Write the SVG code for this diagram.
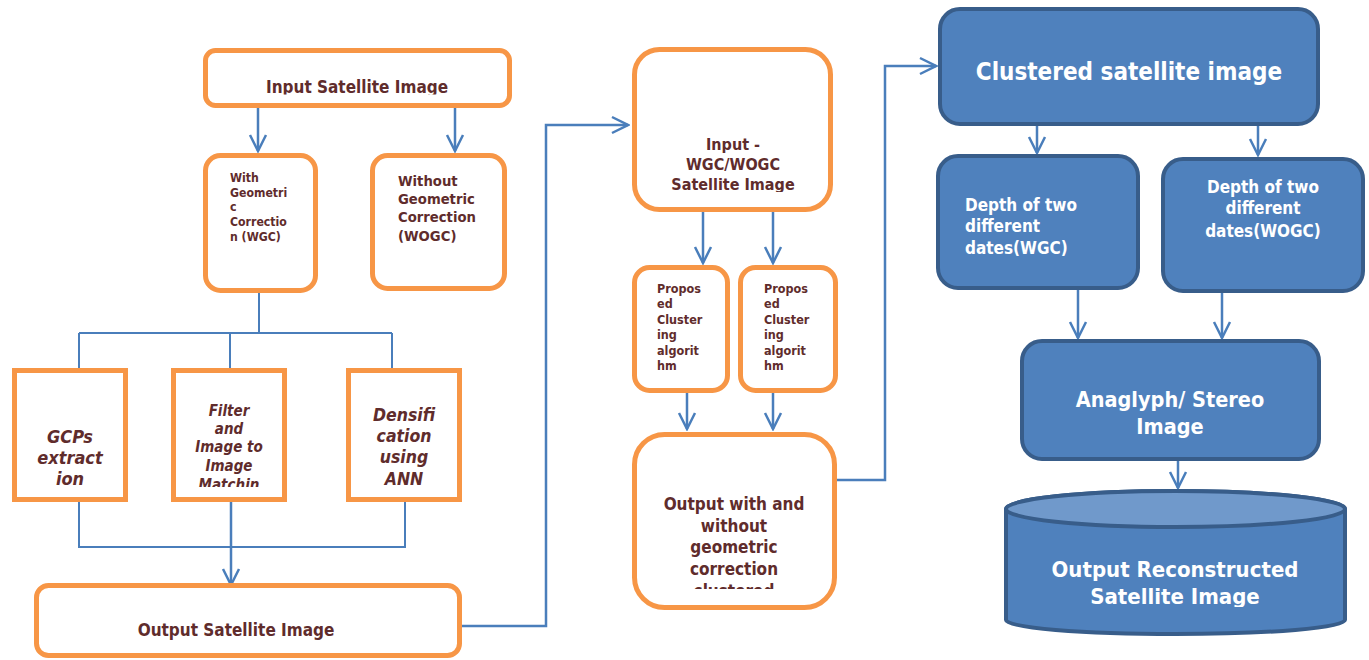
<svg xmlns="http://www.w3.org/2000/svg" width="1369" height="660" viewBox="0 0 1369 660">
<style>
.ob{fill:#fff;stroke:#f79646;stroke-width:5}
.bb{fill:#4f81bd;stroke:#385d8a;stroke-width:4}
.t{font-family:"DejaVu Sans Condensed","DejaVu Sans",sans-serif;font-weight:bold;fill:#5f2c2c}
.w{fill:#fff}
.m{text-anchor:middle}
.i{font-style:italic}
.c{fill:none;stroke:#4a7ebb;stroke-width:2}
.a{marker-end:url(#ah);stroke-width:2.5}
</style>
<defs>
<marker id="ah" viewBox="0 0 20 20" refX="18" refY="10" markerWidth="20" markerHeight="20" markerUnits="userSpaceOnUse" orient="auto">
<path d="M2,2 L18,10 L2,18" fill="none" stroke="#4a7ebb" stroke-width="2.5"/>
</marker>
<clipPath id="c1"><rect x="200" y="50" width="320" height="44.5"/></clipPath>
<clipPath id="c2"><rect x="0" y="370" width="480" height="117"/></clipPath>
<clipPath id="c3"><rect x="630" y="50" width="210" height="142"/></clipPath>
<clipPath id="c4"><rect x="630" y="430" width="210" height="159"/></clipPath>
<clipPath id="c5"><rect x="1000" y="520" width="360" height="87"/></clipPath>
</defs>
<g id="connectors">
<path class="c a" d="M258,108 V151"/>
<path class="c a" d="M455,108 V151"/>
<path class="c" d="M259,293 V333 M79,333 H392 M79,333 V368 M230,333 V368 M392,333 V368"/>
<path class="c" d="M79,502 V547 H405 V502"/>
<path class="c a" d="M231,502 V585"/>
<path class="c a" d="M462,626 H546 V125 H628"/>
<path class="c a" d="M703,212 V263"/>
<path class="c a" d="M773,212 V263"/>
<path class="c a" d="M687,393 V429"/>
<path class="c a" d="M773,393 V429"/>
<path class="c a" d="M837,480 H885 V66 H936"/>
<path class="c a" d="M1037,126 V153"/>
<path class="c a" d="M1258,126 V155"/>
<path class="c a" d="M1078,290 V338"/>
<path class="c a" d="M1222,293 V338"/>
<path class="c a" d="M1178,461 V488"/>
</g>
<g id="input">
<rect class="ob" x="205.5" y="50.5" width="304" height="55" rx="10"/>
<text class="t m" x="357" y="93" font-size="17" clip-path="url(#c1)">Input Satellite Image</text>
</g>
<g id="wgc">
<rect class="ob" x="205.5" y="155.5" width="110" height="135" rx="15"/>
<text class="t" font-size="12.2"><tspan x="230" y="182">With</tspan><tspan x="230" y="197">Geometri</tspan><tspan x="230" y="211">c</tspan><tspan x="230" y="226">Correctio</tspan><tspan x="230" y="241">n (WGC)</tspan></text>
</g>
<g id="wogc">
<rect class="ob" x="372.5" y="155.5" width="132" height="133" rx="15"/>
<text class="t" font-size="14.7"><tspan x="398" y="186">Without</tspan><tspan x="398" y="204">Geometric</tspan><tspan x="398" y="222">Correction</tspan><tspan x="398" y="241">(WOGC)</tspan></text>
</g>
<g id="gcps">
<rect class="ob" x="14.5" y="370.5" width="111" height="129"/>
<text class="t m i" font-size="18" clip-path="url(#c2)"><tspan x="70" y="443">GCPs</tspan><tspan x="70" y="464">extract</tspan><tspan x="70" y="485">ion</tspan></text>
</g>
<g id="filter">
<rect class="ob" x="173.5" y="370.5" width="111" height="129"/>
<text class="t m i" font-size="15" clip-path="url(#c2)"><tspan x="229" y="416">Filter</tspan><tspan x="229" y="434">and</tspan><tspan x="229" y="452">Image to</tspan><tspan x="229" y="471">Image</tspan><tspan x="229" y="490">Matchin</tspan></text>
</g>
<g id="densification">
<rect class="ob" x="348.5" y="370.5" width="111" height="129"/>
<text class="t m i" font-size="17.5" clip-path="url(#c2)"><tspan x="404" y="421">Densifi</tspan><tspan x="404" y="442">cation</tspan><tspan x="404" y="463">using</tspan><tspan x="404" y="485">ANN</tspan></text>
</g>
<g id="output">
<rect class="ob" x="36.5" y="585.5" width="423" height="70" rx="12"/>
<text class="t m" x="236" y="636" font-size="17">Output Satellite Image</text>
</g>
<g id="input2">
<rect class="ob" x="634.5" y="49.5" width="196" height="160" rx="25"/>
<text class="t m" font-size="16" clip-path="url(#c3)"><tspan x="733" y="150">Input -</tspan><tspan x="733" y="170">WGC/WOGC</tspan><tspan x="733" y="190">Satellite Image</tspan></text>
</g>
<g id="proposed1">
<rect class="ob" x="634.5" y="267.5" width="93" height="123" rx="15"/>
<text class="t" font-size="12.5"><tspan x="657" y="293">Propos</tspan><tspan x="657" y="308">ed</tspan><tspan x="657" y="324">Cluster</tspan><tspan x="657" y="339">ing</tspan><tspan x="657" y="355">algorit</tspan><tspan x="657" y="370">hm</tspan></text>
</g>
<g id="proposed2">
<rect class="ob" x="740.5" y="267.5" width="95" height="123" rx="15"/>
<text class="t" font-size="12.5"><tspan x="764" y="293">Propos</tspan><tspan x="764" y="308">ed</tspan><tspan x="764" y="324">Cluster</tspan><tspan x="764" y="339">ing</tspan><tspan x="764" y="355">algorit</tspan><tspan x="764" y="370">hm</tspan></text>
</g>
<g id="output2">
<rect class="ob" x="634.5" y="434.5" width="200" height="173" rx="30"/>
<text class="t m" font-size="17" clip-path="url(#c4)"><tspan x="734" y="510">Output with and</tspan><tspan x="734" y="532">without</tspan><tspan x="734" y="553">geometric</tspan><tspan x="734" y="575">correction</tspan><tspan x="734" y="597">clustered</tspan></text>
</g>
<g id="clustered">
<rect class="bb" x="940" y="9" width="378" height="115" rx="20"/>
<text class="t m w" x="1129" y="80" font-size="24">Clustered satellite image</text>
</g>
<g id="depthwgc">
<rect class="bb" x="938" y="156" width="200" height="132" rx="20"/>
<text class="t w" font-size="17"><tspan x="965" y="211">Depth of two</tspan><tspan x="965" y="232">different</tspan><tspan x="965" y="254">dates(WGC)</tspan></text>
</g>
<g id="depthwogc">
<rect class="bb" x="1163" y="159" width="200" height="132" rx="20"/>
<text class="t m w" font-size="17"><tspan x="1263" y="193">Depth of two</tspan><tspan x="1263" y="214">different</tspan><tspan x="1263" y="237">dates(WOGC)</tspan></text>
</g>
<g id="anaglyph">
<rect class="bb" x="1022" y="341" width="297" height="118" rx="20"/>
<text class="t m w" font-size="21.5"><tspan x="1170" y="407">Anaglyph/ Stereo</tspan><tspan x="1170" y="434">Image</tspan></text>
</g>
<g id="reconstructed">
<path class="bb" d="M1006,509 V620 A169.5,14 0 0 0 1345,620 V509 A169.5,18 0 0 0 1006,509 Z"/>
<ellipse cx="1175.5" cy="509" rx="169.5" ry="18" fill="#7099cb" stroke="#385d8a" stroke-width="4"/>
<text class="t m w" font-size="22" clip-path="url(#c5)"><tspan x="1175" y="577">Output Reconstructed</tspan><tspan x="1175" y="604">Satellite Image</tspan></text>
</g>
</svg>
